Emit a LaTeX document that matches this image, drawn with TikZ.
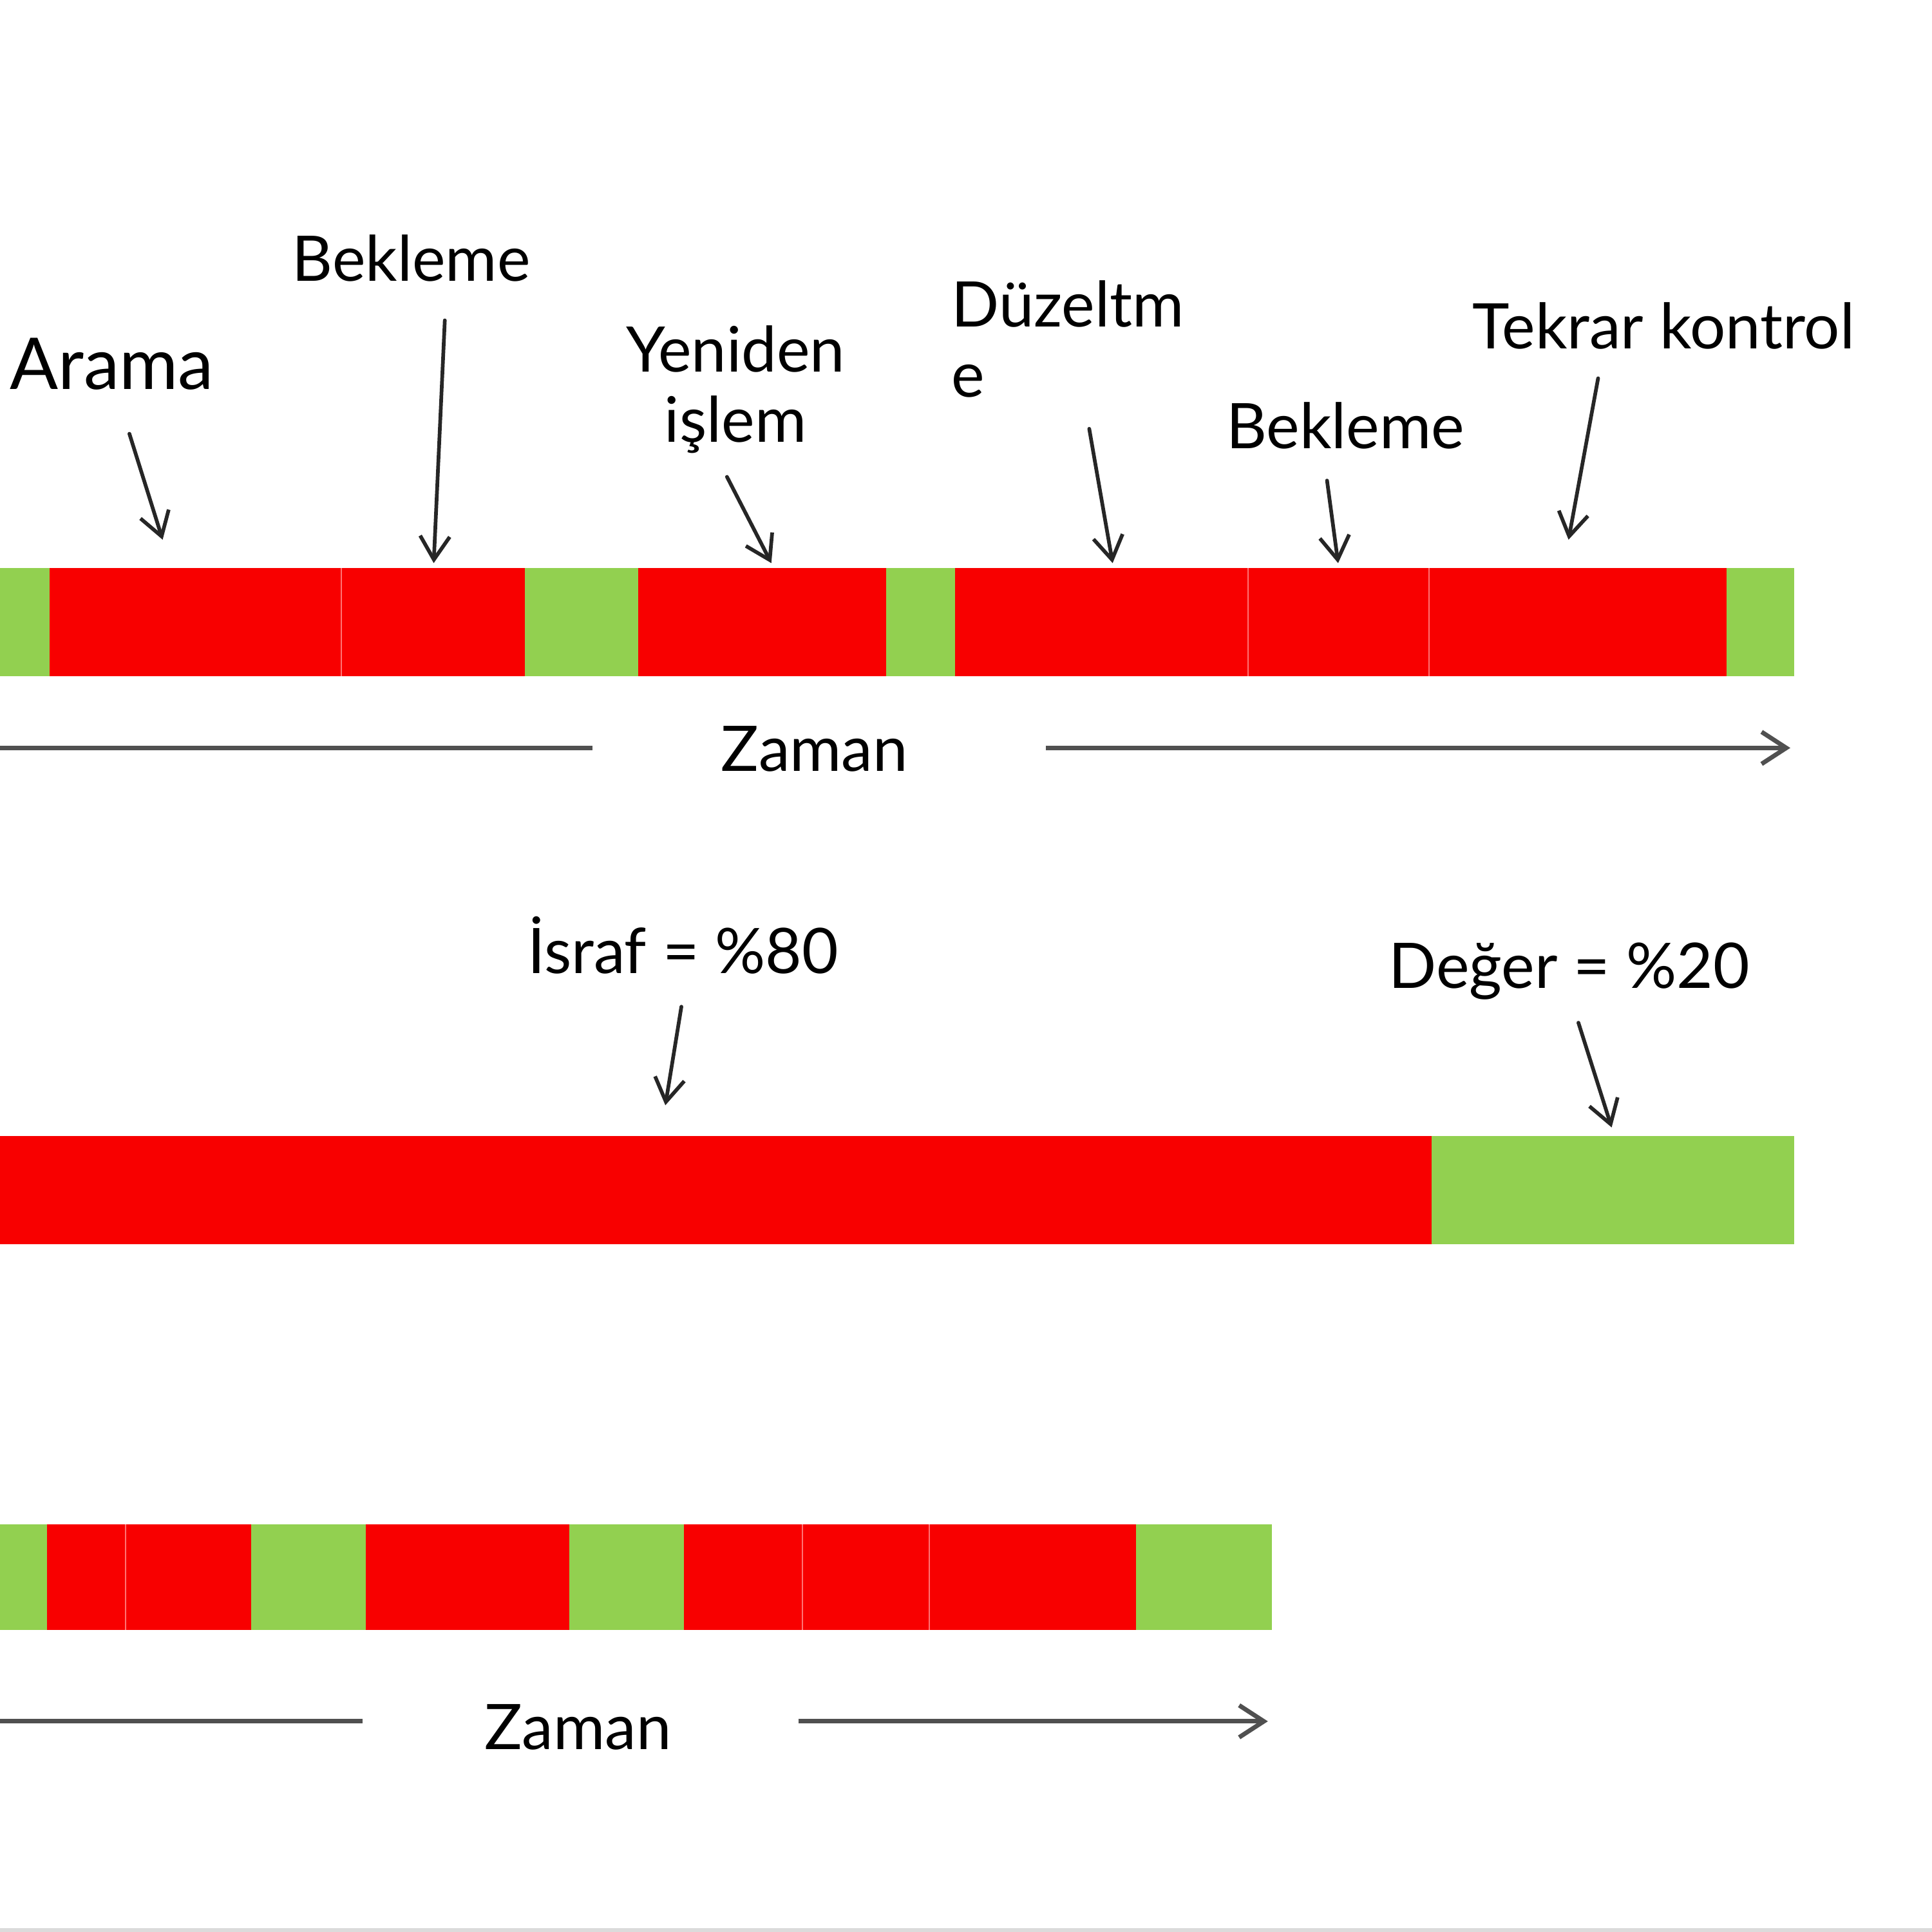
\documentclass[tikz,border=0pt]{standalone}
\usepackage{fontspec}
\setmainfont{Lato}
\usetikzlibrary{arrows.meta}
\definecolor{wred}{RGB}{248,0,0}
\definecolor{vgreen}{RGB}{146,208,80}
\definecolor{axisgray}{RGB}{80,80,80}
\tikzset{
  redseg/.style={fill=wred},
  greenseg/.style={fill=vgreen},
  sepline/.style={draw=red!55!white, line width=1pt},
  lbl/.style={inner sep=0pt, font=\fontsize{51}{57}\selectfont, text=black},
  biglbl/.style={inner sep=0pt, font=\fontsize{58}{64}\selectfont, text=black},
  pointer/.style={draw=black!85, line width=3pt, line cap=round, -{Straight Barb[length=19pt,width=24pt,line width=3pt]}},
  axisline/.style={draw=axisgray, line width=3.6pt},
  axisarrow/.style={axisline, -{Straight Barb[length=20pt,width=26pt,line width=3.6pt]}},
}
\begin{document}
\begin{tikzpicture}[x=1pt,y=-1pt]
\useasboundingbox (0,0) rectangle (1568,1568);
\fill[white] (0,0) rectangle (1568,1568);
\fill[black!14] (0,1565) rectangle (1568,1568);

% ---------- Bar 1 ----------
\fill[greenseg] (0,461) rectangle (40,549);
\fill[redseg] (40,461) rectangle (426,549);
\fill[greenseg] (426,461) rectangle (518,549);
\fill[redseg] (518,461) rectangle (719,549);
\fill[greenseg] (719,461) rectangle (775,549);
\fill[redseg] (775,461) rectangle (1401,549);
\fill[greenseg] (1401,461) rectangle (1456,549);
\draw[sepline] (277,461) -- (277,549);
\draw[sepline] (1013,461) -- (1013,549);
\draw[sepline] (1160,461) -- (1160,549);

% labels bar 1
\node[biglbl, anchor=base west] (arama) at (8,316) {Arama};
\node[lbl, anchor=base west] (bek1) at (237,228) {Bekleme};
\node[lbl, anchor=base, align=center] (yen) at (597,359) {Yeniden\\işlem};
\node[lbl, anchor=base west, align=left] (duz) at (772,322) {Düzeltm\\e};
\node[lbl, anchor=base west] (bek2) at (995,364) {Bekleme};
\node[lbl, anchor=base west] (tek) at (1195,283) {Tekrar kontrol};

\coordinate (p1s) at (105,352); \coordinate (p1e) at (132,438);
\coordinate (p2s) at (361,260); \coordinate (p2e) at (352,457);
\coordinate (p3s) at (590,387); \coordinate (p3e) at (626,457);
\coordinate (p4s) at (884,348); \coordinate (p4e) at (903,457);
\coordinate (p5s) at (1077,390); \coordinate (p5e) at (1086,457);
\coordinate (p6s) at (1297,307); \coordinate (p6e) at (1273,438);
\draw[pointer] (p1s) -- (p1e);
\draw[pointer] (p2s) -- (p2e);
\draw[pointer] (p3s) -- (p3e);
\draw[pointer] (p4s) -- (p4e);
\draw[pointer] (p5s) -- (p5e);
\draw[pointer] (p6s) -- (p6e);

% axis 1
\node[lbl, anchor=base] (zam1) at (661,626) {Zaman};
\coordinate (ax1a) at (0,607); \coordinate (ax1b) at (481,607);
\coordinate (ax1c) at (849,607); \coordinate (ax1d) at (1453,607);
\draw[axisline] (ax1a) -- (ax1b);
\draw[axisarrow] (ax1c) -- (ax1d);

% ---------- Bar 2 ----------
\fill[redseg] (0,922) rectangle (1162,1010);
\fill[greenseg] (1162,922) rectangle (1456,1010);
\node[lbl, anchor=base west] (isr) at (428,790) {İsraf = \%80};
\node[lbl, anchor=base west] (deg) at (1127,802) {Değer = \%20};
\coordinate (q1s) at (553,817); \coordinate (q1e) at (540,897);
\coordinate (q2s) at (1281,830); \coordinate (q2e) at (1308,915);
\draw[pointer] (q1s) -- (q1e);
\draw[pointer] (q2s) -- (q2e);

% ---------- Bar 3 ----------
\fill[greenseg] (0,1237) rectangle (38,1323);
\fill[redseg] (38,1237) rectangle (204,1323);
\fill[greenseg] (204,1237) rectangle (297,1323);
\fill[redseg] (297,1237) rectangle (462,1323);
\fill[greenseg] (462,1237) rectangle (555,1323);
\fill[redseg] (555,1237) rectangle (922,1323);
\fill[greenseg] (922,1237) rectangle (1032,1323);
\draw[sepline] (102,1237) -- (102,1323);
\draw[sepline] (651,1237) -- (651,1323);
\draw[sepline] (754,1237) -- (754,1323);

% axis 3
\node[lbl, anchor=base] (zam3) at (469,1420) {Zaman};
\coordinate (ax3a) at (0,1397); \coordinate (ax3b) at (294,1397);
\coordinate (ax3c) at (648,1397); \coordinate (ax3d) at (1029,1397);
\draw[axisline] (ax3a) -- (ax3b);
\draw[axisarrow] (ax3c) -- (ax3d);
\end{tikzpicture}
\end{document}
